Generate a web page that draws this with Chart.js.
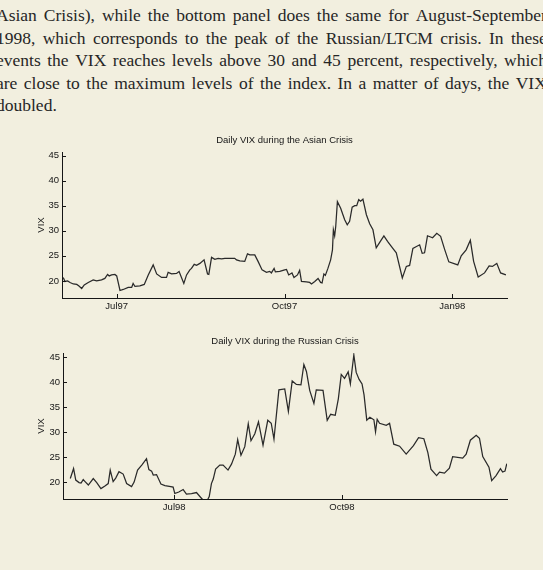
<!DOCTYPE html>
<html>
<head>
<meta charset="utf-8">
<script src="https://cdn.jsdelivr.net/npm/chart.js@4.4.1/dist/chart.umd.min.js"></script>
<style>
  html, body { margin: 0; padding: 0; }
  body {
    width: 543px; height: 570px; overflow: hidden; position: relative;
    background: #f2efdf; color: #262626;
    font-family: "Liberation Serif", "Times New Roman", serif;
  }
  .text { position: absolute; left: -4px; top: 4px; width: 551px; font-size: 17.5px; line-height: 22.5px; }
  .text .j { display: flex; justify-content: space-between; white-space: nowrap; }
  .panel { position: absolute; left: 0; width: 543px; height: 185px; }
  #asiaBox { top: 128px; }
  #russiaBox { top: 329px; }
</style>
</head>
<body>
<div class="text" id="para"></div>
<div class="panel" id="asiaBox"><canvas id="asiaChart" width="543" height="185"></canvas></div>
<div class="panel" id="russiaBox"><canvas id="russiaChart" width="543" height="185"></canvas></div>

<script>
// paragraph above the figure, one entry per printed line
const paraLines = [
  'Asian Crisis), while the bottom panel does the same for August-September',
  '1998, which corresponds to the peak of the Russian/LTCM crisis. In these',
  'events the VIX reaches levels above 30 and 45 percent, respectively, which',
  'are close to the maximum levels of the index. In a matter of days, the VIX',
  'doubled.'
];

// x values are calendar days counted from 1 Jan of the first year shown
const asiaDays = [151.7,152.6,154.1,155.4,157.2,159.1,160.3,161.8,163.2,165.4,
  168.1,170,172.7,174.5,176,176.9,178.2,180,181,182.8,
  184.6,187.3,189.2,190,191,193.7,196.1,198.3,201,202.9,
  205.6,208.3,209.2,211.1,213.8,215.2,217.8,219.3,221.1,222,
  223.5,224.8,226.6,228.9,230.8,231.5,233,234.8,236.6,238.5,
  240.3,245.7,246.7,248.5,251.2,252.7,254,256.7,258.5,260.7,
  263.1,264.9,265.8,267.3,268,270.4,273.1,274.1,275.3,277.1,
  278.2,280.1,281.3,282.3,285,286.8,287.8,289.6,291.4,292.8,
  293.6,294.6,295.4,296.8,298.3,299.3,299.8,300.5,301.1,302,
  303.8,306,307.4,308.7,310.1,311.5,312.6,313.7,314.7,316,
  317.9,319.7,321.5,323.3,325.2,327.5,329.5,332.4,334.3,337.6,
  339.8,341.6,343.4,347.1,348.5,349.8,351.4,354.2,356.5,358.6,
  360.8,363.1,368,369.9,372.6,374.9,376.7,379.2,382.7,385.2,
  387,389.4,391.5,394.4];
const asiaVix = [20.7,19.9,20.0,19.7,19.4,19.3,19.0,18.5,19.2,19.7,
  20.2,20.0,20.2,20.5,21.3,21.0,21.2,21.3,21.0,18.1,
  18.3,18.7,18.7,19.5,18.9,19.0,19.3,21.2,23.2,21.4,
  20.7,20.7,21.7,21.4,21.5,21.9,19.5,21.2,22.2,22.5,
  23.3,23.1,23.5,24.2,21.4,21.3,24.7,24.3,24.5,24.4,
  24.5,24.5,24.2,24.0,23.9,25.4,25.2,25.2,23.9,22.2,
  21.7,21.9,21.6,22.5,21.8,21.9,22.2,22.3,21.2,21.6,
  20.7,21.2,22.1,19.9,19.8,19.7,19.4,19.9,20.5,19.7,
  19.6,21.4,21.1,22.5,24.2,26.2,30.2,29.0,30.9,35.8,
  34.5,32.2,31.2,31.9,34.7,35.0,35.0,36.2,35.9,36.3,
  33.2,31.4,30.2,26.6,27.7,29.0,27.9,26.5,25.6,20.6,
  22.9,23.1,26.5,27.2,25.5,25.6,29.0,28.6,29.5,28.9,
  26.3,23.8,23.2,25.0,26.2,28.1,23.9,20.8,21.6,23.0,
  22.9,23.5,21.6,21.2];
const asiaTickDays = [181, 273, 365];
const asiaTickLabels = ['Jul97', 'Oct97', 'Jan98'];

const russiaDays = [124.0,125.8,127.0,128.8,129.9,131.1,132.1,133.9,136.6,138.5,
  140.8,143,144.8,145.9,147.5,148.9,150.7,153,154.9,157.6,
  159,160.9,163.4,165.8,167.1,168.6,169.5,171.3,173.7,175.9,
  179.1,180.4,181.3,183.5,185.9,187.7,190.5,193.2,196,197.8,
  199.1,200.2,201.4,202.4,203.7,206,207.8,210.5,212.4,214.5,
  215.8,217.6,219.7,221.6,223.1,225.2,227.2,229.7,232.3,234.2,
  235.7,238.4,241.6,243.6,245.7,248,250.5,252.1,253.5,255.3,
  257.6,258.9,262.6,264.9,266.8,269.3,271,272.6,274.4,276.4,
  277.6,279.5,280.8,282.4,284,285.1,286.6,288.3,290.5,291.4,
  292.3,293.6,297.3,299.1,301.4,304.6,308.2,312.2,315,317.9,
  320.1,321.8,324.9,326.5,329.2,331.9,333.7,339.2,341.1,343.4,
  346.6,348.4,350.2,353.6,355.1,357.5,359.9,361.1,362.4,363.4];
const russiaVix = [20.7,22.7,20.4,19.9,19.8,20.5,20.1,19.4,20.7,19.9,
  18.7,19.2,19.7,22.4,20.1,20.8,22.1,21.6,19.7,19.1,
  20.0,22.4,23.5,24.7,22.5,22.2,21.4,21.5,19.6,19.3,
  19.1,19.0,17.7,18.0,18.5,17.6,17.7,17.9,16.7,16.2,
  16.3,17.1,19.7,20.6,22.6,23.4,23.4,22.4,23.6,25.6,
  28.5,25.4,27.1,31.7,28.3,29.7,32.1,27.4,32.4,31.8,
  28.6,38.5,38.7,34.2,40.3,39.6,39.5,43.6,42.2,38.4,
  35.8,38.5,38.4,32.4,33.6,33.4,36.7,41.6,40.8,42.1,
  39.7,45.5,42.0,40.6,39.7,37.5,32.4,33.0,32.5,30.1,
  32.6,31.8,31.4,31.8,27.6,27.2,25.6,27.3,28.9,28.7,
  25.9,22.6,21.3,22.0,21.8,22.8,25.1,24.8,25.6,28.4,
  29.4,28.8,25.1,23.0,20.3,21.3,22.7,22.0,22.2,23.7];
const russiaTickDays = [181, 273];
const russiaTickLabels = ['Jul98', 'Oct98'];

const vixTicks = [20, 25, 30, 35, 40, 45];

// build the justified paragraph (last line left aligned)
const para = document.getElementById('para');
paraLines.forEach((line, i) => {
  const div = document.createElement('div');
  if (i < paraLines.length - 1) {
    div.className = 'j';
    line.split(' ').forEach(w => {
      const span = document.createElement('span');
      span.textContent = w;
      div.appendChild(span);
    });
  } else {
    div.textContent = line;
  }
  para.appendChild(div);
});

const ink = '#161616';
const sansFont = '"Liberation Sans", Arial, sans-serif';

// small tick marks pointing into the plot, like the printed figure
const innerTicks = {
  id: 'innerTicks',
  afterDatasetsDraw(chart) {
    const { ctx, chartArea, scales } = chart;
    ctx.save();
    ctx.strokeStyle = ink;
    ctx.lineWidth = 1;
    ctx.beginPath();
    scales.y.ticks.forEach(t => {
      const y = Math.round(scales.y.getPixelForValue(t.value)) + 0.5;
      ctx.moveTo(chartArea.left, y);
      ctx.lineTo(chartArea.left + 4, y);
    });
    scales.x.ticks.forEach(t => {
      const x = Math.round(scales.x.getPixelForValue(t.value)) + 0.5;
      ctx.moveTo(x, chartArea.bottom);
      ctx.lineTo(x, chartArea.bottom - 4);
    });
    ctx.stroke();
    ctx.restore();
  }
};

function makeChart(id, title, days, vix, tickDays, tickLabels, xMin, xMax, yMax, leftWidth) {
  const points = days.map((d, i) => ({ x: d, y: vix[i] }));
  return new Chart(document.getElementById(id), {
    type: 'line',
    data: {
      datasets: [{
        data: points,
        borderColor: '#2a2a2a',
        borderWidth: 1.25,
        pointRadius: 0,
        tension: 0,
        fill: false
      }]
    },
    options: {
      responsive: false,
      animation: false,
      events: [],
      layout: { padding: { left: 0, right: 36, top: 0, bottom: 0 } },
      plugins: {
        legend: { display: false },
        tooltip: { enabled: false },
        title: {
          display: true,
          text: title,
          fullSize: false,
          color: ink,
          font: { family: sansFont, size: 9.5, weight: 'normal' },
          padding: { top: 7, bottom: 5.6 }
        }
      },
      scales: {
        x: {
          type: 'linear',
          min: xMin,
          max: xMax,
          grid: { display: false, drawTicks: false },
          border: { display: true, color: ink, width: 1 },
          afterBuildTicks: s => { s.ticks = tickDays.map(v => ({ value: v })); },
          afterFit: s => { s.height = 15; },
          ticks: {
            padding: 3,
            color: ink,
            font: { family: sansFont, size: 9.5 },
            callback: v => tickLabels[tickDays.indexOf(v)]
          }
        },
        y: {
          min: 16.6,
          max: yMax,
          grid: { display: false, drawTicks: false },
          border: { display: true, color: ink, width: 1 },
          afterBuildTicks: s => { s.ticks = vixTicks.map(v => ({ value: v })); },
          afterFit: s => { s.width = leftWidth; },
          title: {
            display: true,
            text: 'VIX',
            color: ink,
            font: { family: sansFont, size: 9.5 },
            padding: { top: 36, bottom: 0 }
          },
          ticks: {
            padding: 3,
            color: ink,
            font: { family: sansFont, size: 9.5 }
          }
        }
      }
    },
    plugins: [innerTicks]
  });
}

makeChart('asiaChart', 'Daily VIX during the Asian Crisis',
  asiaDays, asiaVix, asiaTickDays, asiaTickLabels, 151, 395, 45.7, 62);
makeChart('russiaChart', 'Daily VIX during the Russian Crisis',
  russiaDays, russiaVix, russiaTickDays, russiaTickLabels, 120, 363.5, 45.9, 63);
</script>
</body>
</html>
